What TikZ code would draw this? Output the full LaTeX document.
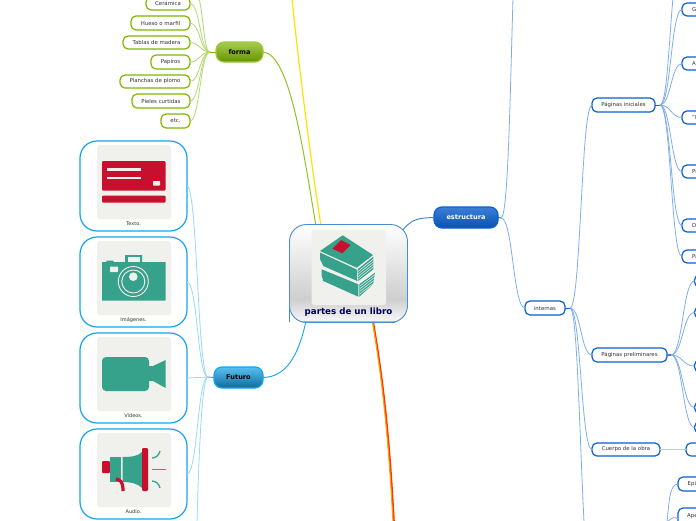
\documentclass[tikz,border=0pt]{standalone}
\usepackage{fontspec}
\setmainfont{DejaVu Sans}
\usetikzlibrary{calc}
\definecolor{grn}{HTML}{7FB800}
\definecolor{grnl}{HTML}{B5D873}
\definecolor{blu}{HTML}{0B5FD0}
\definecolor{blul}{HTML}{7FAEF0}
\definecolor{sky}{HTML}{12A5EE}
\definecolor{skyl}{HTML}{98DAF7}
\definecolor{teal}{HTML}{36A28C}
\definecolor{crim}{HTML}{C8102E}
\definecolor{pane}{HTML}{F0F0EC}
\definecolor{inktxt}{HTML}{333333}
\pgfdeclareverticalshading{cenfill}{100bp}{color(0bp)=(white!95!gray); color(25bp)=(white!95!gray); color(37bp)=(gray!38!white); color(75bp)=(white); color(100bp)=(white)}
\tikzset{
  base/.style={inner sep=0pt,outer sep=0pt,align=center,line width=1.2pt,rounded corners=5pt,font=\fontsize{5.4}{6.5}\selectfont,text=inktxt,fill=white},
  gchild/.style={base,draw=grn},
  bchild/.style={base,draw=blu},
  card/.style={base,draw=sky,rounded corners=17pt},
  gtop/.style={base,rounded corners=8pt,font=\fontsize{6.6}{8}\bfseries\selectfont,text=black,top color=#1},
  link/.style={line width=0.8pt},
  gl/.style={link,draw=grnl},
  bl/.style={link,draw=blul},
  sl/.style={link,draw=skyl},
  panel/.style={fill=pane,draw=none,rounded corners=3pt},
  lbl/.style={font=\fontsize{5}{6}\selectfont,text=inktxt,inner sep=0pt},
  frag/.style={font=\fontsize{5.4}{6.5}\selectfont,text=inktxt,inner sep=0pt,anchor=west},
}
\newcommand\bx[7][]{\node[#6,#1,minimum width={#4-#2},minimum height={#5-#3}] (#7) at ({(#2+#4)/2},{(#3+#5)/2})}
\newcommand\lnk[3][]{\path (#2) -- (#3) coordinate[pos=.5] (mm); \draw[#1] (#2) .. controls (#2 -| mm) and (#3 -| mm) .. (#3);}
\begin{document}
\begin{tikzpicture}[x=1pt,y=-1pt]
\path[use as bounding box,clip] (0,0) rectangle (696,520);
\fill[white] (0,0) rectangle (696,520);

% named free ends
\coordinate (topY) at (292,-2);
\coordinate (topE) at (513,-2);
\coordinate (topP) at (673,-2);
\coordinate (botF) at (197,522);
\coordinate (botI) at (584,522);
\coordinate (botC) at (667,522);
\coordinate (botO) at (393,522);
\coordinate (botR) at (394,522);

% main nodes
\bx{216}{42}{263}{62}{gtop=grn!70!white,bottom color=grn!80!black,draw=grn!75!white}{forma}{forma};
\bx{214}{367}{263}{388}{gtop=sky!70!white,bottom color=sky!65!black,draw=sky}{futuro}{Futuro};
\bx{434}{207}{498}{228}{gtop=blu!80!white,bottom color=blu!85!black,draw=blu,text=white}{estr}{estructura};

% main connectors
\draw[draw=yellow!85!orange,line width=1.2pt] (topY) .. controls (298,60) and (312,170) .. (321,226);
\draw[draw=grn!85!white,line width=1pt] (forma.east) .. controls (290,54) and (303,150) .. (316,226);
\draw[draw=red!60!orange,line width=1.7pt] (373,321) .. controls (385,390) and (390,450) .. (botR);
\draw[draw=orange!75!yellow,line width=1.1pt] (372.3,321) .. controls (384,390) and (389,450) .. (botO);
\draw[draw=sky,line width=0.9pt] (futuro.east) .. controls (285,377) and (298,358) .. (306,321);
\draw[draw=blu!80!white,line width=0.9pt] (estr.west) .. controls (420,218) and (412,218) .. (402,231);

% forma children
\bx{146}{-3}{190}{10}{gchild}{fa}{Cerámica};
\bx{131}{16}{190}{30}{gchild}{fb}{Hueso o marfil};
\bx{123}{36}{190}{49}{gchild}{fc}{Tablas de madera};
\bx{151}{55}{190}{69}{gchild}{fd}{Papiros};
\bx{120}{75}{190}{88}{gchild}{fe}{Planchas de plomo};
\bx{132}{94}{190}{108}{gchild}{ff}{Pieles curtidas};
\bx{161}{114}{190}{128}{gchild}{fg}{etc.};
\coordinate (ffork) at (210,52);
\coordinate (fup) at (199,-2);
\draw[grn,line width=0.9pt] (forma.west) -- (ffork);
\foreach \c in {fa,fb,fc,fd,fe,ff,fg}{\lnk[gl]{ffork}{\c.east}}
\draw[gl] (ffork) .. controls (204,52) and (204,20) .. (fup);

% cards
\bx{80}{141}{187}{231}{card}{ca}{};
\bx{80}{237}{187}{327}{card}{cb}{};
\bx{80}{333}{187}{423}{card}{cc}{};
\bx{80}{429}{187}{519}{card}{cd}{};
\node[lbl] (la) at (133.5,224) {Texto.};
\node[lbl] (lb) at (133.5,320) {Imágenes.};
\node[lbl] (lc) at (133.5,416) {Videos.};
\node[lbl] (ld) at (133.5,512) {Audio.};
\coordinate (sfork) at (208,377);
\draw[sky,line width=0.9pt] (futuro.west) -- (sfork);
\foreach \c in {ca,cb,cc,cd}{\lnk[sl]{sfork}{\c.east}}
\draw[sl] (sfork) .. controls (202,377) and (199,450) .. (botF);

% card icons
\fill[panel] (97,145) rectangle (171,219);
\fill[panel] (97,241) rectangle (171,315);
\fill[panel] (97,337) rectangle (171,411);
\fill[panel] (97,433) rectangle (171,507);
% text icon
\fill[crim,rounded corners=1pt] (102,161) rectangle (165.5,190.5);
\fill[crim,rounded corners=1pt] (102,195.5) rectangle (165.5,202.5);
\fill[pane] (107,168) rectangle (141,170.5);
\fill[pane] (107,176.5) rectangle (141,179);
\fill[pane,rounded corners=.7pt] (153,181) rectangle (160,185.5);
% camera icon
\fill[teal] (102,262) -- (106,262) -- (107,260.5) -- (113,260.5) -- (114,262) -- (125,262) -- (125,255) -- (142,255) -- (142,262) -- (165.5,262) -- (165.5,300.5) -- (102,300.5) -- cycle;
\fill[pane] (128,257) rectangle (139.5,262);
\fill[pane,rounded corners=.7pt] (110,266.5) rectangle (118,272);
\draw[pane,line width=0.9pt] (133.3,281.5) circle (15);
\draw[pane,line width=0.9pt] (133.3,281.5) circle (11.5);
\fill[pane] (133.3,276.7) circle (4.3);
% video icon
\fill[teal,rounded corners=4pt] (102,357) rectangle (149,391);
\fill[teal] (148,366) -- (153,366) -- (165.7,360) -- (165.7,388) -- (153,381) -- (148,381) -- cycle;
% audio icon
\fill[crim,rounded corners=1pt] (102,461) rectangle (110,473);
\fill[teal] (110,457) -- (121,457) -- (121,482) -- (110,482) -- cycle;
\fill[teal] (122.5,457) .. controls (132,457) and (138,456) .. (142,452) -- (142,488) .. controls (138,484) and (132,482) .. (122.5,482) -- cycle;
\fill[crim,rounded corners=1.2pt] (142,448) rectangle (148,491);
\draw[crim,line width=3.2pt] (116,479) .. controls (121,480) and (123,482) .. (123,491);
\draw[teal,line width=1.3pt] (152,458) .. controls (156,458) and (159,455) .. (160,451);
\draw[teal,line width=1.3pt] (152,469.5) -- (165.5,469.5);
\draw[teal,line width=1.3pt] (152,481) .. controls (156,481) and (159,484) .. (160,488);

% centre
\node[base,draw=none,fill=none,rounded corners=17pt,shading=cenfill,minimum width=118pt,minimum height=98pt] (cen) at (348.5,273.5) {};
\begin{scope}
\clip[rounded corners=17pt] (289.5,224.5) rectangle (407.5,322.5);
\draw[draw=cyan!55!blue!40!white,line width=2pt] (285,322) -- (412,322);
\end{scope}
\draw[draw=cyan!55!blue!75!white,line width=0.9pt,rounded corners=17pt] (289.5,322) -- (289.5,224.5) -- (407.5,224.5) -- (407.5,322.5) -- (395,322.5);
\draw[draw=cyan!55!blue!75!white,line width=0.9pt,rounded corners=17pt] (395,322.5) -- (289.5,322.5) -- (289.5,300);
\fill[panel] (311.5,230) rectangle (386,305);
\fill[teal] (342.7,235.3) -- (373,255) -- (356.7,267.7) -- (320,251) -- cycle;
\fill[crim] (341,240) -- (350.7,245) -- (342.3,253.3) -- (332.3,248.7) -- cycle;
\fill[teal] (320,252.5) -- (356.7,269.5) -- (357.3,281) -- (323.3,266) -- (320,259) -- cycle;
\fill[teal] (321.7,269.3) -- (358.3,284.3) -- (358.3,296.7) -- (323.3,281) -- (321.7,276) -- cycle;
\fill[teal] (357.5,269.5) -- (373.3,256.7) -- (373.3,269.3) -- (358.3,281) -- cycle;
\fill[teal] (359.3,284.3) -- (375,272.7) -- (373.3,284) -- (359.3,296.7) -- cycle;
\foreach \d in {0,2.6,5.2,7.8}{
  \draw[pane,line width=.55pt] (358,{271.5+\d}) -- (374,{258.5+\d});
  \draw[pane,line width=.55pt] (360,{286+\d}) -- (375,{274.5+\d});
}
\node[font=\fontsize{8.7}{10}\bfseries\selectfont,text=blue!35!black,inner sep=0pt] (cenlbl) at (348.5,312) {partes de un libro};

% structure right
\bx{525}{301}{565}{315}{bchild}{inte}{internas};
\bx{592}{98}{655}{112}{bchild}{pini}{Páginas iniciales};
\bx{592}{348}{667}{362}{bchild}{ppre}{Páginas preliminares};
\bx{592}{443}{660}{456}{bchild}{cuer}{Cuerpo de la obra};
\coordinate (efork) at (501,218);
\coordinate (ifork) at (570,308);
\coordinate (pfork) at (660,105);
\coordinate (qfork) at (671,355);
\draw[blu,line width=.9pt] (estr.east) -- (efork);
\draw[blu,line width=.9pt] (inte.east) -- (ifork);
\draw[blu,line width=.9pt] (pini.east) -- (pfork);
\draw[blu!80!white,line width=1.2pt] (ppre.east) -- (qfork);
\draw[bl] (efork) .. controls (508,218) and (510,100) .. (topE);
\lnk[bl]{efork}{inte.west}
\lnk[bl]{ifork}{pini.west}
\lnk[bl]{ifork}{ppre.west}
\lnk[bl]{ifork}{cuer.west}
\draw[bl] (ifork) .. controls (577,308) and (579,420) .. (botI);

\bx{682}{3}{760}{16}{bchild}{ga}{};
\bx{682}{57}{760}{70}{bchild}{gb}{};
\bx{682}{111}{760}{124}{bchild}{gc}{};
\bx{682}{165}{760}{178}{bchild}{gd}{};
\bx{682}{219}{760}{232}{bchild}{ge}{};
\bx{682}{250}{760}{263}{bchild}{gf}{};
\node[frag] (ta) at (692,10) {G};
\node[frag] (tb) at (692,64) {A};
\node[frag] (tc) at (692,118) {"E};
\node[frag] (td) at (692,172) {Pr};
\node[frag] (te) at (692,226) {D};
\node[frag] (tf) at (692,257) {Pa};
\foreach \c in {ga,gb,gc,gd,ge,gf}{\lnk[bl]{pfork}{\c.west}}
\draw[bl] (pfork) .. controls (667,105) and (669,40) .. (topP);

\bx{694.5}{275}{740}{287}{bchild}{ha}{};
\bx{694.5}{307}{740}{318}{bchild}{hb}{};
\bx{694.5}{360}{740}{372}{bchild}{hc}{};
\bx{694.5}{402}{740}{413}{bchild}{hd}{};
\bx{694.5}{422}{740}{433}{bchild}{he}{};
\foreach \c in {ha,hb,hc,hd,he}{\lnk[bl]{qfork}{\c.west}}

\bx{686}{443}{760}{456}{bchild}{ka}{};
\draw[blul!60!white,line width=1.6pt] (cuer.east) -- (ka.west);

\bx{678}{477}{760}{491}{bchild}{ma}{};
\bx{678}{508}{760}{530}{bchild}{mb}{};
\node[frag] (tg) at (687.5,484.5) {Epi};
\node[frag] (th) at (687,516) {Ape};
\draw[bl] (botC) .. controls (669,505) and (669,484) .. (ma.west);
\draw[bl] (botC) .. controls (672,518) and (674,516) .. (mb.west);
\end{tikzpicture}
\end{document}
